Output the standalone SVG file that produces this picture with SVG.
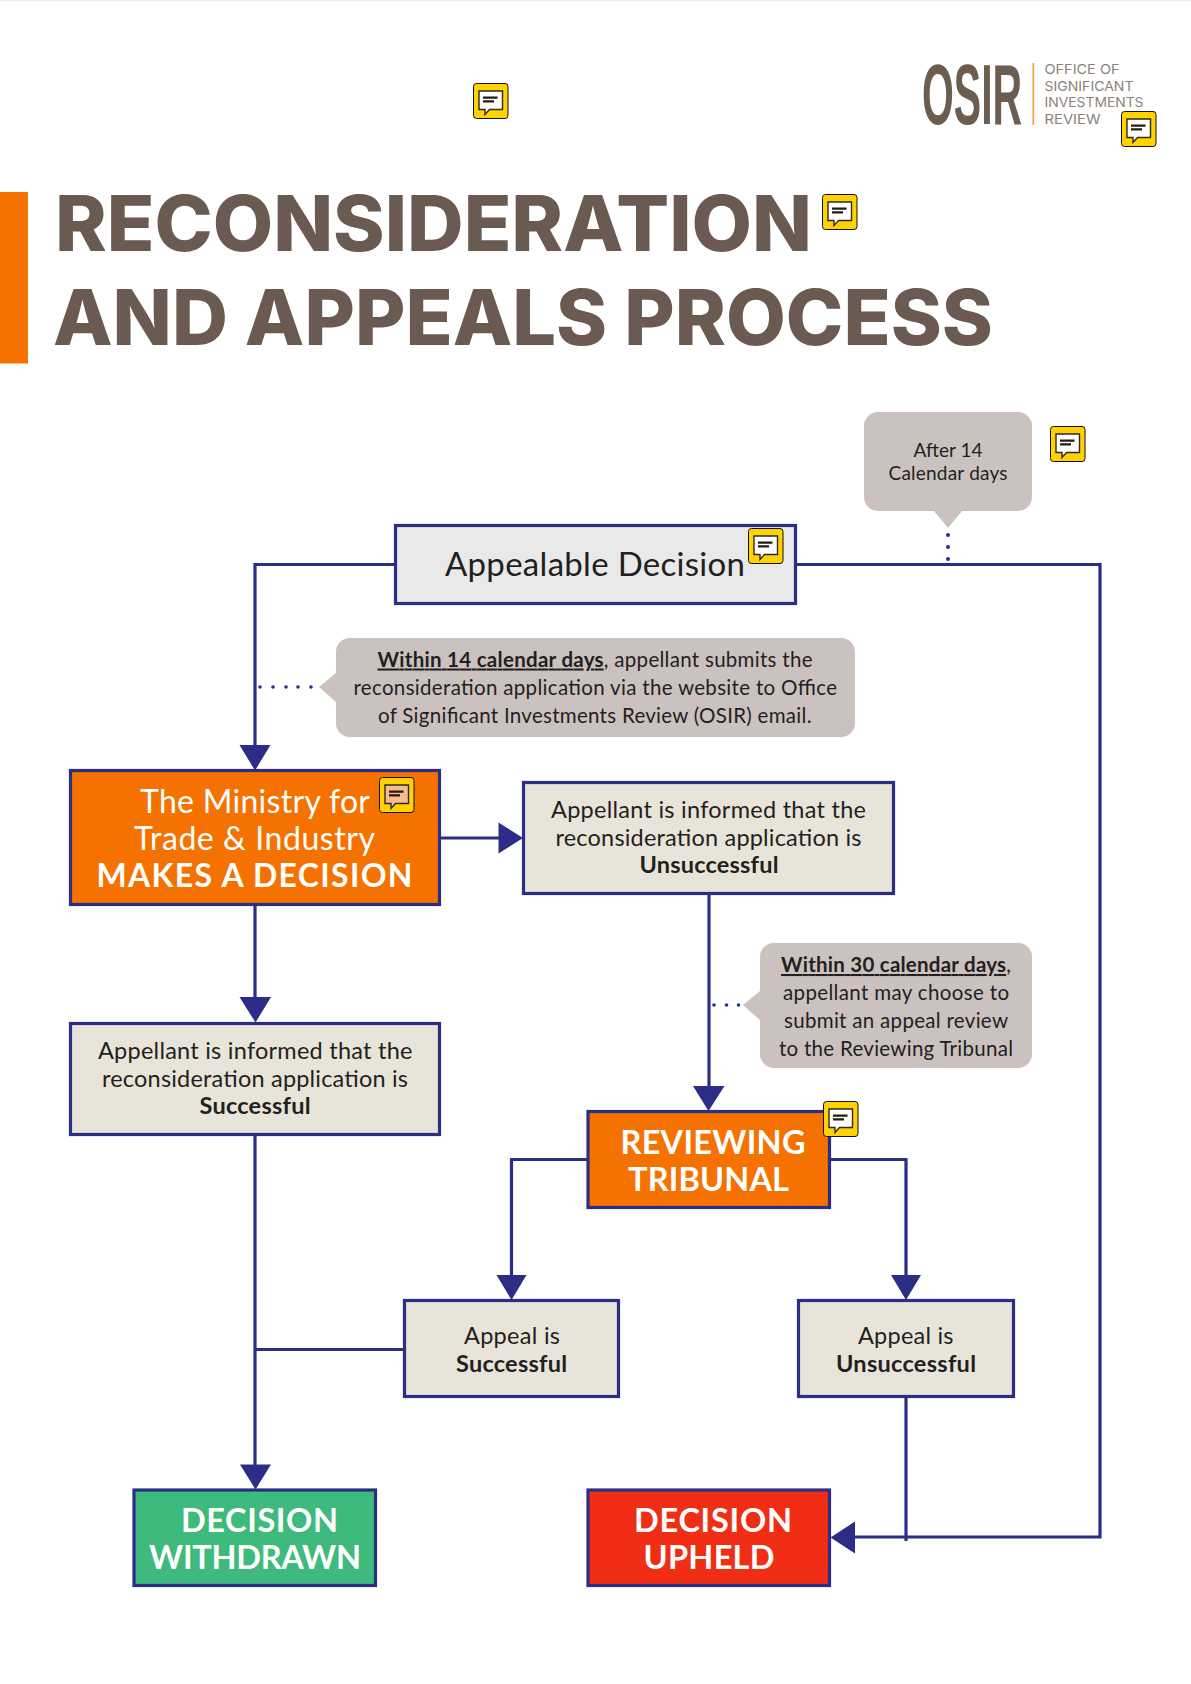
<svg xmlns="http://www.w3.org/2000/svg" xmlns:xlink="http://www.w3.org/1999/xlink" width="1191" height="1684" viewBox="0 0 1191 1684">
<style>
text{font-family:"Lato","Noto Sans","Liberation Sans",sans-serif;fill:#231F20}
.title{font-family:"Inter","Liberation Sans",sans-serif;font-weight:800;font-size:77px;fill:#6A5A52}
.logo{font-family:"Liberation Sans",sans-serif;font-weight:700;font-size:85px;fill:#6B5E50}
.sub{font-family:"Inter","Liberation Sans",sans-serif;font-size:13.5px;fill:#8C827A}
.box{stroke:#2B2D86;stroke-width:3.2}
.beige{fill:#E9E4DA}
.note{fill:#CBC2BF}
.n{font-size:23.5px}
.s{font-size:20.5px}
.t{font-size:19px}
.m{font-size:32px;fill:#fff}
.h{font-size:32.5px;fill:#fff;font-weight:700}
.b{font-weight:700}
.u{font-weight:700;text-decoration:underline}
.line{fill:none;stroke:#2B2D86;stroke-width:3.2}
.head{fill:#2B2D86}
.dot{fill:#2B2D86}
</style>
<defs>
<g id="ic">
<rect x="0.5" y="0.5" width="34.5" height="35" rx="3" fill="#FFD200" stroke="#111" stroke-width="1"/>
<path d="M6 8H29.500V26.500H16.500L12 31.500V26.500H6Z" fill="currentColor" stroke="#2A2A2A" stroke-width="1.400"/>
<path d="M10 14.700H24.500M10 18.300H21" stroke="#221C10" stroke-width="2.200" fill="none"/>
</g>
</defs>
<rect width="1191" height="1684" fill="#fff"/>
<rect width="1191" height="1.500" fill="#EBEBEB"/>

<g id="logo">
<text class="logo" transform="translate(922 124) scale(0.482 1)">OSIR</text>
<rect x="1032.500" y="63" width="1.600" height="62" fill="#F0A23F"/>
<text class="sub" x="1044.500" y="74" textLength="75" lengthAdjust="spacingAndGlyphs">OFFICE OF</text>
<text class="sub" x="1044.500" y="91" textLength="89" lengthAdjust="spacingAndGlyphs">SIGNIFICANT</text>
<text class="sub" x="1044.500" y="107" textLength="99" lengthAdjust="spacingAndGlyphs">INVESTMENTS</text>
<text class="sub" x="1044.500" y="124" textLength="56" lengthAdjust="spacingAndGlyphs">REVIEW</text>
</g>

<g id="title">
<rect x="0" y="192" width="28" height="171.500" fill="#F57200"/>
<text class="title" x="55" y="251" textLength="757" lengthAdjust="spacingAndGlyphs">RECONSIDERATION</text>
<text class="title" x="53" y="345" textLength="940" lengthAdjust="spacingAndGlyphs">AND APPEALS PROCESS</text>
</g>

<g id="connectors">
<path class="line" d="M394 564.500H255V746"/>
<path class="line" d="M797 564.500H1100V1537H850"/>
<path class="line" d="M441 838H500"/>
<path class="line" d="M255 906V998"/>
<path class="line" d="M709 895V1087"/>
<path class="line" d="M587 1159.500H511.500V1275"/>
<path class="line" d="M831 1159.500H906V1275"/>
<path class="line" d="M255 1136V1465"/>
<path class="line" d="M403 1349.500H255"/>
<path class="line" d="M906 1398V1541"/>
<path class="head" d="M239.500 745H270.500L255 770.500Z"/>
<path class="head" d="M498.500 822.500L523 838L498.500 853.500Z"/>
<path class="head" d="M239.500 997H271L255.500 1022.500Z"/>
<path class="head" d="M693 1086H724.500L708.500 1111Z"/>
<path class="head" d="M496.500 1275H526.500L511.500 1300Z"/>
<path class="head" d="M891 1275H921L906 1300Z"/>
<path class="head" d="M240 1464.500H271L255.500 1489.500Z"/>
<path class="head" d="M855 1521.500V1553.500L830.500 1537.500Z"/>
<g class="dot">
<circle cx="948" cy="535" r="2"/><circle cx="948" cy="547" r="2"/><circle cx="948" cy="559" r="2"/>
<circle cx="260" cy="687" r="1.800"/><circle cx="273" cy="687" r="1.800"/><circle cx="286" cy="687" r="1.800"/><circle cx="298" cy="687" r="1.800"/><circle cx="311" cy="687" r="1.800"/>
<circle cx="714" cy="1005" r="1.800"/><circle cx="726.500" cy="1005" r="1.800"/><circle cx="738.500" cy="1005" r="1.800"/>
</g>
</g>

<g id="note-after-14">
<path class="note" d="M878 412H1018a14 14 0 0 1 14 14V497a14 14 0 0 1-14 14H962L948 528L934 511H878a14 14 0 0 1-14-14V426a14 14 0 0 1 14-14Z"/>
<text class="t" x="913.500" y="457" textLength="69">After 14</text>
<text class="t" x="888.500" y="480" textLength="119">Calendar days</text>
</g>

<g id="appealable-decision">
<rect class="box" x="395.500" y="525.500" width="400" height="78" fill="#E9E9EA"/>
<text x="445" y="575.500" font-size="33" textLength="300">Appealable Decision</text>
</g>

<g id="note-within-14">
<path class="note" d="M350 638H841a14 14 0 0 1 14 14V723a14 14 0 0 1-14 14H350a14 14 0 0 1-14-14V702L319 687L336 673V652a14 14 0 0 1 14-14Z"/>
<text class="s" x="377.500" y="666.500" textLength="435"><tspan class="u">Within 14 calendar days</tspan>, appellant submits the</text>
<text class="s" x="353.500" y="694.500" textLength="483.500">reconsideration application via the website to Office</text>
<text class="s" x="378" y="722.500" textLength="433.500">of Significant Investments Review (OSIR) email.</text>
</g>

<g id="ministry-decision">
<rect class="box" x="70.500" y="770.500" width="369" height="134" fill="#F57200"/>
<text class="m" x="140" y="812.500" textLength="230">The Ministry for</text>
<text class="m" x="134" y="849.500" textLength="241">Trade &amp; Industry</text>
<text class="m b" x="96.500" y="886.500" textLength="316">MAKES A DECISION</text>
</g>

<g id="informed-unsuccessful">
<rect class="box beige" x="523.500" y="782.500" width="370" height="111"/>
<text class="n" x="551" y="818" textLength="315">Appellant is informed that the</text>
<text class="n" x="555.500" y="846" textLength="306">reconsideration application is</text>
<text class="n b" x="639.500" y="873" textLength="139">Unsuccessful</text>
</g>

<g id="informed-successful">
<rect class="box beige" x="70.500" y="1023.500" width="369" height="111"/>
<text class="n" x="98" y="1059" textLength="314.500">Appellant is informed that the</text>
<text class="n" x="102" y="1087" textLength="306">reconsideration application is</text>
<text class="n b" x="199.500" y="1114" textLength="111">Successful</text>
</g>

<g id="note-within-30">
<path class="note" d="M774 943H1018a14 14 0 0 1 14 14V1054a14 14 0 0 1-14 14H774a14 14 0 0 1-14-14V1020L743 1005L760 991V957a14 14 0 0 1 14-14Z"/>
<text class="s" x="781" y="972" textLength="230"><tspan class="u">Within 30 calendar days</tspan>,</text>
<text class="s" x="783" y="1000" textLength="226">appellant may choose to</text>
<text class="s" x="784" y="1028" textLength="224">submit an appeal review</text>
<text class="s" x="779" y="1056" textLength="234">to the Reviewing Tribunal</text>
</g>

<g id="reviewing-tribunal">
<rect class="box" x="588" y="1111.500" width="241.500" height="96" fill="#F57200"/>
<text class="h" x="620.500" y="1154" textLength="185">REVIEWING</text>
<text class="h" x="628" y="1190.500" textLength="161">TRIBUNAL</text>
</g>

<g id="appeal-successful">
<rect class="box beige" x="404.500" y="1300.500" width="214" height="96"/>
<text class="n" x="464" y="1344" textLength="96">Appeal is</text>
<text class="n b" x="456" y="1372" textLength="111">Successful</text>
</g>

<g id="appeal-unsuccessful">
<rect class="box beige" x="798.500" y="1300.500" width="215" height="96"/>
<text class="n" x="858" y="1344" textLength="95.500">Appeal is</text>
<text class="n b" x="836" y="1372" textLength="140">Unsuccessful</text>
</g>

<g id="decision-withdrawn">
<rect class="box" x="134" y="1490" width="241.500" height="95.500" fill="#3FBA7D"/>
<text class="h" x="181" y="1532" textLength="157">DECISION</text>
<text class="h" x="149" y="1568.500" textLength="212">WITHDRAWN</text>
</g>

<g id="decision-upheld">
<rect class="box" x="588" y="1490" width="241.500" height="95.500" fill="#F02E15"/>
<text class="h" x="634" y="1532" textLength="158">DECISION</text>
<text class="h" x="643.500" y="1568.500" textLength="131">UPHELD</text>
</g>

<g id="comment-markers" color="#fff">
<use href="#ic" x="473" y="83"/>
<use href="#ic" x="1121" y="111"/>
<use href="#ic" x="822" y="194"/>
<use href="#ic" x="1050" y="426"/>
<use href="#ic" x="748" y="528"/>
<use href="#ic" x="379" y="777" color="#F9BC91"/>
<use href="#ic" x="823" y="1101"/>
</g>
</svg>
